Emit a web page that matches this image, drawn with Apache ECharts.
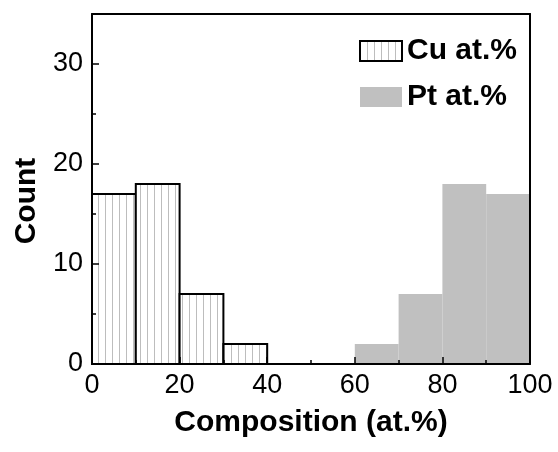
<!DOCTYPE html>
<html>
<head>
<meta charset="utf-8">
<script src="https://cdn.jsdelivr.net/npm/echarts@6/dist/echarts.min.js"></script>
<style>html,body{margin:0;padding:0;background:#fff;}#c{width:558px;height:452px;}</style>
</head>
<body>
<div id="c"></div>
<script>
// Data
var cuBinEdges = [0, 10, 20, 30, 40];
var cuCounts = [17, 18, 7, 2];
var ptBinEdges = [60, 70, 80, 90, 100];
var ptCounts = [2, 7, 18, 17];
var seriesNames = ['Cu at.%', 'Pt at.%'];
var xTitle = 'Composition (at.%)';
var yTitle = 'Count';

function toBins(edges, counts) {
  var out = [];
  for (var i = 0; i < counts.length; i++) out.push([edges[i], edges[i + 1], counts[i]]);
  return out;
}

// hatch pattern
var pc = document.createElement('canvas');
pc.width = 7; pc.height = 7;
var pctx = pc.getContext('2d');
pctx.fillStyle = '#ffffff'; pctx.fillRect(0, 0, 7, 7);
pctx.fillStyle = '#bdbdbd'; pctx.fillRect(0, 0, 1, 7);
var hatch = { image: pc, repeat: 'repeat' };

var FONT = '"Liberation Sans", Arial, sans-serif';

function makeRender(fill, stroke, lw) {
  return function (params, api) {
    var p0 = api.coord([api.value(0), 0]);
    var p1 = api.coord([api.value(1), api.value(2)]);
    return {
      type: 'rect',
      shape: { x: p0[0], y: p1[1], width: p1[0] - p0[0], height: p0[1] - p1[1] },
      style: { fill: fill, stroke: stroke, lineWidth: lw }
    };
  };
}

var chart = echarts.init(document.getElementById('c'), null, { renderer: 'canvas' });
chart.setOption({
  animation: false,
  backgroundColor: '#fff',
  grid: { left: 92, top: 14, right: 28, bottom: 88 },
  legend: {
    left: 354, top: 31, orient: 'vertical',
    itemWidth: 42, itemHeight: 20, itemGap: 16,
    textStyle: { fontFamily: FONT, fontSize: 30, fontWeight: 'bold', color: '#000' },
    data: [
      { name: seriesNames[0], icon: 'rect', itemStyle: { color: hatch, borderColor: '#000', borderWidth: 2 } },
      { name: seriesNames[1], icon: 'rect', itemStyle: { color: '#c0c0c0', borderWidth: 0 } }
    ]
  },
  xAxis: [
    {
      type: 'value', min: 0, max: 100, interval: 20, position: 'bottom', z: 10,
      name: xTitle, nameLocation: 'middle', nameGap: 44,
      nameTextStyle: { fontFamily: FONT, fontSize: 30, fontWeight: 'bold', color: '#000' },
      axisLine: { show: true, onZero: false, lineStyle: { color: '#000', width: 2 } },
      axisTick: { show: true, inside: true, length: 7, lineStyle: { color: '#000', width: 1.5 } },
      minorTick: { show: true, splitNumber: 2, length: 4, lineStyle: { color: '#000', width: 1.5 } },
      axisLabel: { fontFamily: FONT, fontSize: 27, color: '#000', margin: 8 },
      splitLine: { show: false }, minorSplitLine: { show: false }
    },
    {
      type: 'value', min: 0, max: 100, position: 'top', z: 10,
      axisLine: { show: true, onZero: false, lineStyle: { color: '#000', width: 2 } },
      axisTick: { show: false }, axisLabel: { show: false }, splitLine: { show: false }
    }
  ],
  yAxis: [
    {
      type: 'value', min: 0, max: 35, interval: 10, position: 'left', z: 10,
      name: yTitle, nameLocation: 'middle', nameGap: 49,
      nameTextStyle: { fontFamily: FONT, fontSize: 30, fontWeight: 'bold', color: '#000', padding: [0, 24, 0, 0] },
      axisLine: { show: true, onZero: false, lineStyle: { color: '#000', width: 2 } },
      axisTick: { show: true, inside: true, length: 7, lineStyle: { color: '#000', width: 1.5 } },
      axisLabel: { fontFamily: FONT, fontSize: 27, color: '#000', margin: 9,
        formatter: function (v) { return v % 10 === 0 ? String(v) : ''; } },
      splitLine: { show: false }
    },
    {
      type: 'value', min: 0, max: 35, interval: 5, position: 'left', z: 10,
      axisLine: { show: false },
      axisTick: { show: true, inside: true, length: 4, lineStyle: { color: '#000', width: 1.5 } },
      axisLabel: { show: false }, splitLine: { show: false }
    },
    {
      type: 'value', min: 0, max: 35, position: 'right', z: 10,
      axisLine: { show: true, onZero: false, lineStyle: { color: '#000', width: 2 } },
      axisTick: { show: false }, axisLabel: { show: false }, splitLine: { show: false }
    }
  ],
  series: [
    {
      name: seriesNames[0], type: 'custom', xAxisIndex: 0, yAxisIndex: 0,
      itemStyle: { color: hatch, borderColor: '#000', borderWidth: 2 },
      encode: { x: [0, 1], y: 2 },
      renderItem: makeRender(hatch, '#000', 2),
      data: toBins(cuBinEdges, cuCounts)
    },
    {
      name: seriesNames[1], type: 'custom', xAxisIndex: 0, yAxisIndex: 0,
      itemStyle: { color: '#c0c0c0' },
      encode: { x: [0, 1], y: 2 },
      renderItem: makeRender('#c0c0c0', null, 0),
      data: toBins(ptBinEdges, ptCounts)
    }
  ]
});
</script>
</body>
</html>
